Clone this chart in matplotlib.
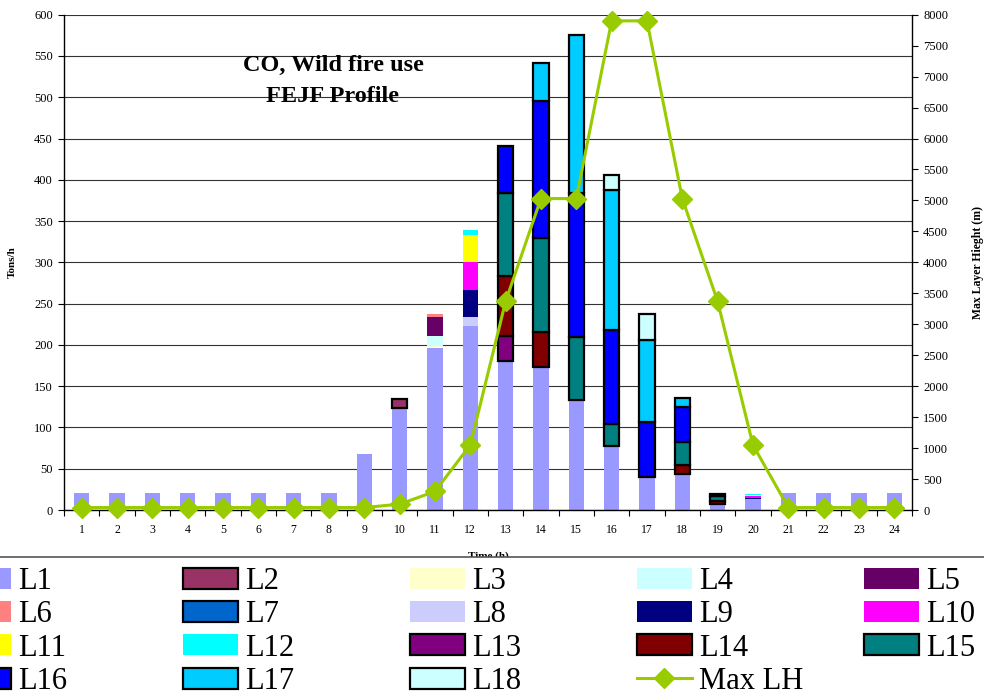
import matplotlib
matplotlib.use("Agg")
import matplotlib.pyplot as plt
import numpy as np
from matplotlib.lines import Line2D
from matplotlib.patches import Patch, Rectangle

plt.rcParams["font.family"] = ["Liberation Serif", "DejaVu Serif"]

HOURS = np.arange(1, 25)

# emissions by layer, tons/h (stacked bottom -> top)
L1 = [21, 21, 21, 21, 21, 21, 21, 21, 68, 124, 196, 223, 181, 173.5, 133, 78,
      40, 44, 7, 13.5, 21, 21, 21, 21]
L2 = [0] * 9 + [11] + [0] * 14
L3 = [0] * 10 + [3] + [0] * 13
L4 = [0] * 10 + [11.5] + [0] * 13
L5 = [0] * 10 + [23] + [0] * 13
L6 = [0] * 10 + [3.5] + [0] * 13
L7 = [0] * 24
L8 = [0] * 11 + [10.5] + [0] * 12
L9 = [0] * 11 + [33] + [0] * 7 + [1.5] + [0] * 4
L10 = [0] * 11 + [34] + [0] * 7 + [1.5] + [0] * 4
L11 = [0] * 11 + [33] + [0] * 7 + [2] + [0] * 4
L12 = [0] * 11 + [6] + [0] * 7 + [1.5] + [0] * 4
L13 = [0] * 12 + [30] + [0] * 11
L14 = [0] * 12 + [72, 42.5, 0, 0, 0, 10, 4] + [0] * 5
L15 = [0] * 12 + [101, 114, 77, 26, 0, 28, 6] + [0] * 5
L16 = [0] * 12 + [57, 165, 173.5, 114, 67, 42.5, 2] + [0] * 5
L17 = [0] * 13 + [46.5, 191.5, 169.5, 99, 11.5] + [0] * 6
L18 = [0] * 15 + [18, 31.5] + [0] * 7

# max layer height, m
MAX_LH = [40] * 9 + [95, 300, 1050, 3370, 5030, 5030, 7900, 7900, 5030, 3370,
                     1050, 40, 40, 40, 40]

LAYERS = [L1, L2, L3, L4, L5, L6, L7, L8, L9, L10, L11, L12, L13, L14, L15,
          L16, L17, L18]
NAMES = [f"L{i}" for i in range(1, 19)]
COLORS = ["#9999FF", "#993366", "#FFFFCC", "#CCFFFF", "#660066", "#FF8080",
          "#0066CC", "#CCCCFF", "#000080", "#FF00FF", "#FFFF00", "#00FFFF",
          "#800080", "#800000", "#008080", "#0000FF", "#00CCFF", "#CCFFFF"]
EDGED = {"L2", "L7", "L13", "L14", "L15", "L16", "L17", "L18"}
LINE_COLOR = "#99CC00"
EDGE_LW = 1.6

fig = plt.figure(figsize=(9.84, 6.98), dpi=100)
ax = fig.add_axes([0.065, 0.2693, 0.8618, 0.7097])
ax2 = ax.twinx()

bottom = np.zeros(len(HOURS))
for name, vals, color in zip(NAMES, LAYERS, COLORS):
    vals = np.asarray(vals, dtype=float)
    m = vals > 0
    if m.any():
        edged = name in EDGED
        ax.bar(HOURS[m], vals[m], bottom=bottom[m], width=0.43, color=color,
               edgecolor="black" if edged else "none",
               linewidth=EDGE_LW if edged else 0)
    bottom += vals

ax2.plot(HOURS, MAX_LH, color=LINE_COLOR, lw=2.2, marker="D", markersize=10,
         clip_on=False, zorder=5)

ax.set_xlim(0.5, 24.5)
ax.set_ylim(0, 600)
ax.set_yticks(np.arange(0, 601, 50))
ax2.set_ylim(0, 8000)
ax2.set_yticks(np.arange(0, 8001, 500))

ax.set_axisbelow(True)
ax.yaxis.grid(True, color="#333333", linewidth=0.8)

# category ticks sit between bars, labels at bar centres
ax.set_xticks(np.arange(0.5, 25, 1))
ax.set_xticklabels([])
ax.set_xticks(HOURS, minor=True)
ax.set_xticklabels([str(h) for h in HOURS], minor=True, fontsize=8.5)
ax.tick_params(axis="x", which="major", direction="out", length=4, width=0.8)
ax.tick_params(axis="x", which="minor", length=0, pad=10)
ax.tick_params(axis="y", direction="out", length=4, width=0.8, labelsize=9, pad=4)
ax2.tick_params(axis="y", direction="out", length=4, width=0.8, labelsize=9, pad=4)

for side in ("top", "right"):
    ax.spines[side].set_visible(False)
for side in ("top", "left", "bottom"):
    ax2.spines[side].set_visible(False)
for sp in ("left", "bottom"):
    ax.spines[sp].set_linewidth(1.0)
ax2.spines["right"].set_linewidth(1.0)

ax.set_ylabel("Tons/h", fontsize=8, fontweight="bold")
ax.yaxis.set_label_coords(-0.0554, 0.5)
ax2.set_ylabel("Max Layer Hieght (m)", fontsize=8.5, fontweight="bold",
               rotation=90)
ax2.yaxis.set_label_coords(1.0708, 0.5)
ax.set_xlabel("Time (h)", fontsize=8, fontweight="bold")
ax.xaxis.set_label_coords(0.5, -0.083)

ax.text(0.3172, 0.898, "CO, Wild fire use", transform=ax.transAxes,
        ha="center", va="center", fontsize=17.5, fontweight="bold")
ax.text(0.3172, 0.834, "FEJF Profile", transform=ax.transAxes,
        ha="center", va="center", fontsize=17.5, fontweight="bold")

# legend panel along the bottom
fig.patches.append(Rectangle((-0.01, -0.01), 1.02, 0.2024 + 0.01,
                             transform=fig.transFigure, facecolor="white",
                             edgecolor="#555555", linewidth=1.2, zorder=2))

handles = {}
for name, color in zip(NAMES, COLORS):
    edged = name in EDGED
    handles[name] = Patch(facecolor=color,
                          edgecolor="black" if edged else "none",
                          linewidth=EDGE_LW if edged else 0)
handles["Max LH"] = Line2D([], [], color=LINE_COLOR, lw=2.2, marker="D",
                           markersize=10)

columns = [
    ["L1", "L6", "L11", "L16"],
    ["L2", "L7", "L12", "L17"],
    ["L3", "L8", "L13", "L18"],
    ["L4", "L9", "L14", "Max LH"],
    ["L5", "L10", "L15"],
]
col_x = -44.3 / 984
for col in columns:
    leg = fig.legend([handles[k] for k in col], col, loc="upper left",
                     bbox_to_anchor=(col_x, 1 - 567 / 698), frameon=False,
                     fontsize=22, handlelength=1.8, handleheight=0.687,
                     handletextpad=0.23, labelspacing=0.14, borderpad=0,
                     borderaxespad=0)
    leg.set_zorder(5)
    col_x += 227 / 984

fig.savefig("out.png", dpi=100)
